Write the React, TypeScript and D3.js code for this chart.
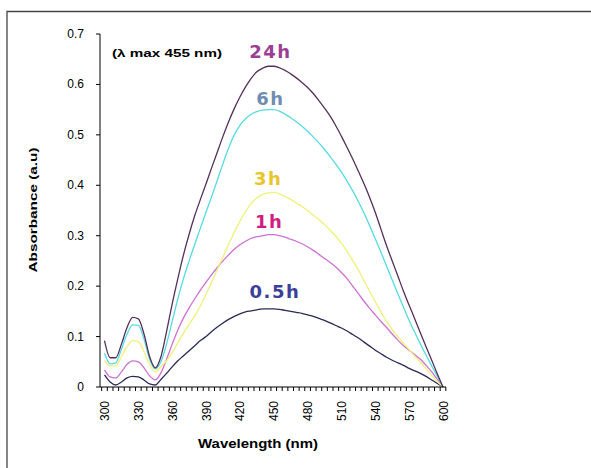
import React from "react";
import * as d3 from "d3";

const wavelengths: number[] = d3.range(300, 605, 5);
const xTickLabels: number[] = [300, 330, 360, 390, 420, 450, 480, 510, 540, 570, 600];
const yTicks: number[] = [0, 0.1, 0.2, 0.3, 0.4, 0.5, 0.6, 0.7];

const series24h: number[] = [
  0.092, 0.058, 0.058, 0.085, 0.118, 0.138, 0.135, 0.105, 0.06, 0.038,
  0.06, 0.11, 0.165, 0.215, 0.262, 0.303, 0.34, 0.372, 0.403, 0.435,
  0.466, 0.497, 0.526, 0.552, 0.575, 0.595, 0.612, 0.625, 0.632, 0.636,
  0.636, 0.633, 0.628, 0.621, 0.613, 0.604, 0.594, 0.582, 0.568, 0.553,
  0.537, 0.518, 0.497, 0.475, 0.452, 0.428, 0.403, 0.376, 0.346, 0.313,
  0.28, 0.25, 0.22, 0.19, 0.162, 0.135, 0.107, 0.08, 0.053, 0.026, 0,
];
const series6h: number[] = [
  0.067, 0.046, 0.048, 0.075, 0.105, 0.123, 0.122, 0.095, 0.055, 0.036,
  0.05, 0.085, 0.13, 0.175, 0.215, 0.25, 0.283, 0.315, 0.347, 0.378,
  0.41, 0.443, 0.474, 0.5, 0.519, 0.532, 0.541, 0.546, 0.549, 0.55,
  0.55, 0.547, 0.541, 0.534, 0.526, 0.517, 0.507, 0.496, 0.484, 0.471,
  0.457, 0.442, 0.426, 0.408, 0.389, 0.368, 0.345, 0.32, 0.294, 0.267,
  0.24, 0.212, 0.185, 0.158, 0.132, 0.108, 0.085, 0.063, 0.042, 0.021, 0,
];
const series3h: number[] = [
  0.053, 0.042, 0.042, 0.06, 0.08, 0.092, 0.09, 0.07, 0.045, 0.03,
  0.04, 0.052, 0.068, 0.088, 0.107, 0.124, 0.141, 0.161, 0.184, 0.208,
  0.233, 0.258, 0.283, 0.307, 0.329, 0.348, 0.364, 0.375, 0.382, 0.385,
  0.386, 0.383, 0.378, 0.372, 0.365, 0.358, 0.35, 0.341, 0.332, 0.322,
  0.311, 0.299, 0.285, 0.269, 0.251, 0.232, 0.211, 0.19, 0.169, 0.149,
  0.13, 0.114, 0.1, 0.087, 0.074, 0.061, 0.049, 0.036, 0.023, 0.011, 0,
];
const series1h: number[] = [
  0.034, 0.02, 0.018, 0.03, 0.045, 0.052, 0.05, 0.038, 0.022, 0.014,
  0.028, 0.055, 0.085, 0.113, 0.137, 0.157, 0.175, 0.192, 0.208, 0.223,
  0.237, 0.25, 0.262, 0.273, 0.282, 0.289, 0.295, 0.298, 0.3, 0.302,
  0.302, 0.3, 0.297, 0.293, 0.289, 0.284, 0.278, 0.271, 0.263, 0.255,
  0.247, 0.238, 0.227, 0.215, 0.2, 0.185, 0.17, 0.156, 0.143, 0.13,
  0.118, 0.105, 0.093, 0.082, 0.073, 0.064, 0.055, 0.043, 0.03, 0.015, 0,
];
const series05h: number[] = [
  0.024, 0.01, 0.004, 0.01, 0.018, 0.021, 0.02, 0.014, 0.006, 0.004,
  0.015, 0.027, 0.04, 0.052, 0.062, 0.072, 0.082, 0.092, 0.1, 0.11,
  0.119, 0.127, 0.134, 0.14, 0.145, 0.149, 0.151, 0.153, 0.155, 0.155,
  0.155, 0.154, 0.152, 0.15, 0.148, 0.146, 0.143, 0.14, 0.136, 0.132,
  0.127, 0.122, 0.117, 0.111, 0.104, 0.097, 0.089, 0.081, 0.073, 0.066,
  0.059, 0.053, 0.048, 0.043, 0.037, 0.032, 0.027, 0.021, 0.014, 0.007, 0,
];

const seriesNames: string[] = ["0.5h", "1h", "3h", "6h", "24h"];
const seriesValues: number[][] = [series05h, series1h, series3h, series6h, series24h];
const lineColors: string[] = ["#2a2a58", "#cf70d2", "#f0f07a", "#55dbe3", "#55305a"];
const labelColors: string[] = ["#3b3f98", "#d21c80", "#e9c42c", "#6f8db2", "#9a3e96"];
// label anchor: [wavelength, value] where the label sits
const labelPos: [number, number][] = [
  [451, 0.177],
  [446, 0.316],
  [445, 0.401],
  [447, 0.56],
  [447, 0.652],
];

export default function App() {
  const W = 591;
  const H = 468;
  const x = d3.scaleLinear().domain([300, 600]).range([104.5, 443]);
  const y = d3.scaleLinear().domain([0, 0.7]).range([387, 34]);
  const line = d3
    .line<number>()
    .x((_, i) => x(wavelengths[i]))
    .y((d) => y(d))
    .curve(d3.curveMonotoneX);

  const minorTicks = d3.range(297.5, 605, 5);
  const sans = "'Liberation Sans', Arial, sans-serif";
  const verd = "'DejaVu Sans', Verdana, sans-serif";

  return (
    <svg
      width={W}
      height={H}
      style={{ position: "absolute", left: 0, top: 0, background: "#fff" }}
    >
      <rect x={0} y={0} width={W} height={H} fill="#fff" />
      {/* outer frame */}
      <path d={`M7,${H + 2} L7,11.5 L${W + 2},11.5`} fill="none" stroke="#444" strokeWidth={1.3} />

      {/* series */}
      {seriesValues.map((vals, i) => (
        <path
          key={seriesNames[i]}
          d={line(vals) || ""}
          fill="none"
          stroke={lineColors[i]}
          strokeWidth={1.3}
        />
      ))}

      {/* y axis */}
      <line x1={100} x2={100} y1={y(0.7)} y2={y(0)} stroke="#000" strokeWidth={1} />
      {yTicks.map((t) => (
        <g key={t}>
          <line x1={96} x2={100} y1={y(t)} y2={y(t)} stroke="#000" strokeWidth={1} />
          <text
            x={84}
            y={y(t) + 4}
            textAnchor="end"
            fontFamily={sans}
            fontSize={12}
            fill="#000"
          >
            {t === 0 ? "0" : t.toFixed(1)}
          </text>
        </g>
      ))}

      {/* x axis */}
      <line x1={100} x2={446} y1={y(0)} y2={y(0)} stroke="#000" strokeWidth={1} />
      {minorTicks.map((t) => (
        <line key={t} x1={x(t)} x2={x(t)} y1={y(0)} y2={y(0) + 4} stroke="#000" strokeWidth={1} />
      ))}
      {xTickLabels.map((t) => (
        <text
          key={t}
          transform={`translate(${x(t) + 4.5},${401}) rotate(-90)`}
          textAnchor="end"
          fontFamily={sans}
          fontSize={12}
          fill="#000"
        >
          {t}
        </text>
      ))}

      {/* axis titles */}
      <text
        transform={`translate(37,210) rotate(-90)`}
        textAnchor="middle"
        fontFamily={sans}
        fontWeight="bold"
        fontSize={11}
        textLength={125}
        lengthAdjust="spacingAndGlyphs"
        fill="#000"
      >
        Absorbance (a.u)
      </text>
      <text
        x={258}
        y={448}
        textAnchor="middle"
        fontFamily={sans}
        fontWeight="bold"
        fontSize={12}
        textLength={120}
        lengthAdjust="spacingAndGlyphs"
        fill="#000"
      >
        Wavelength (nm)
      </text>

      {/* annotation */}
      <text
        x={112}
        y={57}
        fontFamily={sans}
        fontWeight="bold"
        fontSize={11}
        textLength={110}
        lengthAdjust="spacingAndGlyphs"
        fill="#000"
      >
        (λ max 455 nm)
      </text>

      {/* series labels */}
      {seriesNames.map((n, i) => (
        <text
          key={n}
          x={x(labelPos[i][0])}
          y={y(labelPos[i][1])}
          textAnchor="middle"
          fontFamily={verd}
          fontWeight="bold"
          fontSize={18}
          letterSpacing={1.5}
          fill={labelColors[i]}
        >
          {n}
        </text>
      ))}
    </svg>
  );
}
